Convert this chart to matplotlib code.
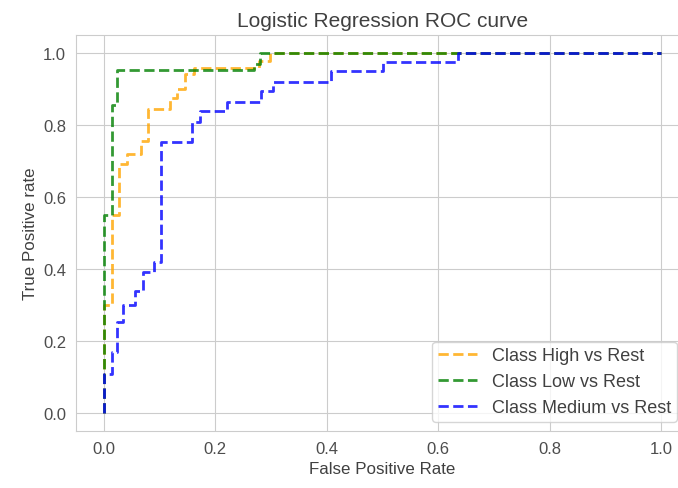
import matplotlib
matplotlib.use("Agg")
import matplotlib.pyplot as plt
import seaborn as sns

# ROC corner points (fpr, tpr) for each one-vs-rest class
fpr_high = [0, 0, 0.014, 0.014, 0.028, 0.028, 0.041, 0.041, 0.067, 0.067, 0.08, 0.08,
            0.119, 0.119, 0.131, 0.131, 0.146, 0.146, 0.161, 0.161, 0.278, 0.278,
            0.298, 0.298, 1.0]
tpr_high = [0, 0.30, 0.30, 0.55, 0.55, 0.69, 0.69, 0.72, 0.72, 0.755, 0.755, 0.844,
            0.844, 0.875, 0.875, 0.90, 0.90, 0.94, 0.94, 0.958, 0.958, 0.977,
            0.977, 1.0, 1.0]

fpr_low = [0, 0, 0.014, 0.014, 0.023, 0.023, 0.27, 0.27, 0.28, 0.28, 1.0]
tpr_low = [0, 0.55, 0.55, 0.855, 0.855, 0.953, 0.953, 0.97, 0.97, 1.0, 1.0]

fpr_med = [0, 0, 0.014, 0.014, 0.024, 0.024, 0.034, 0.034, 0.056, 0.056, 0.07, 0.07,
           0.09, 0.09, 0.102, 0.102, 0.158, 0.158, 0.173, 0.173, 0.221, 0.221,
           0.282, 0.282, 0.304, 0.304, 0.408, 0.408, 0.501, 0.501, 0.636, 0.636, 1.0]
tpr_med = [0, 0.108, 0.108, 0.17, 0.17, 0.253, 0.253, 0.30, 0.30, 0.337, 0.337, 0.392,
           0.392, 0.42, 0.42, 0.752, 0.752, 0.808, 0.808, 0.838, 0.838, 0.864,
           0.864, 0.894, 0.894, 0.92, 0.92, 0.949, 0.949, 0.975, 0.975, 1.0, 1.0]

labels = ['Class High vs Rest', 'Class Low vs Rest', 'Class Medium vs Rest']

sns.set_style('whitegrid')
plt.rcParams['font.family'] = ['Liberation Sans', 'DejaVu Sans']

fig = plt.figure(figsize=(6.78, 4.89), dpi=100)
ax = fig.add_subplot(111)
fig.subplots_adjust(left=0.112, right=1.016, top=0.927, bottom=0.117)

ax.plot(fpr_high, tpr_high, linestyle='--', color='orange', lw=2, alpha=0.8, label=labels[0])
ax.plot(fpr_low, tpr_low, linestyle='--', color='green', lw=2, alpha=0.8, label=labels[1])
ax.plot(fpr_med, tpr_med, linestyle='--', color='blue', lw=2, alpha=0.8, label=labels[2])

ax.set_title('Logistic Regression ROC curve', fontsize=15, color='0.25', pad=6.5)
ax.set_xlabel('False Positive Rate', fontsize=12.2, color='0.25')
ax.set_ylabel('True Positive rate', fontsize=12.2, color='0.25')
ax.tick_params(labelsize=12, labelcolor='0.3')
ax.legend(loc='lower right', bbox_to_anchor=(0.98, 0.023), borderaxespad=0,
          fontsize=13, labelcolor='0.25', handlelength=2.2, borderpad=0.3)

fig.savefig('out.png', dpi=100)
